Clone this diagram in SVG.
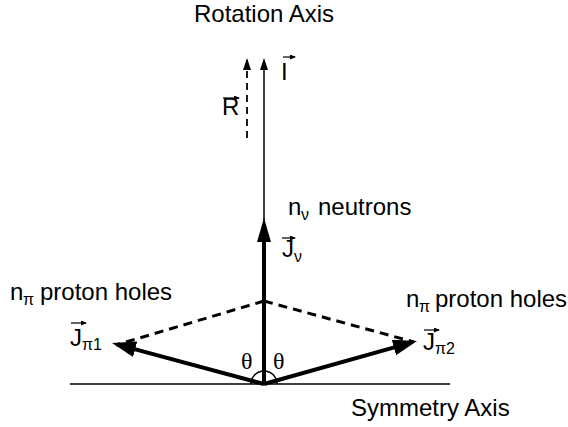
<svg xmlns="http://www.w3.org/2000/svg" width="568" height="427" viewBox="0 0 568 427">
<style>
.t{font-family:"Liberation Sans",Arial,sans-serif;font-size:24px;fill:#000}
.s{font-size:16px}
.th{font-family:"Liberation Serif","Times New Roman",serif;font-size:24px;fill:#000}
.thin{stroke:#000;stroke-width:1.5;fill:none}
.thick{stroke:#000;stroke-width:4;fill:none}
.dash{stroke:#000;stroke-width:3;stroke-dasharray:9 6;fill:none}
.dashthin{stroke:#000;stroke-width:1.8;stroke-dasharray:7 5;fill:none}
.vec{stroke:#000;stroke-width:1.2;fill:none}
</style>
<defs>
<marker id="big" markerUnits="userSpaceOnUse" markerWidth="26" markerHeight="18" refX="18" refY="8" orient="auto"><path d="M0,0 L24,8 L0,16 Z" fill="#000"/></marker>
<marker id="bigv" markerUnits="userSpaceOnUse" markerWidth="26" markerHeight="16" refX="18" refY="7" orient="auto"><path d="M0,0 L24,7 L0,14 Z" fill="#000"/></marker>
<marker id="small" markerUnits="userSpaceOnUse" markerWidth="14" markerHeight="10" refX="10" refY="4" orient="auto"><path d="M0,0 L12,4 L0,8 Z" fill="#000"/></marker>
<marker id="tiny" markerUnits="userSpaceOnUse" markerWidth="7" markerHeight="5" refX="5" refY="2.5" orient="auto"><path d="M0,0 L6,2.5 L0,5 Z" fill="#000"/></marker>
</defs>
<g id="connectors">
<line class="thin" x1="70" y1="384" x2="450" y2="384"/>
<line class="thick" x1="264" y1="384" x2="264" y2="224" marker-end="url(#bigv)"/>
<line class="thin" x1="264" y1="242" x2="264" y2="60" marker-end="url(#small)"/>
<line class="dashthin" x1="247" y1="138" x2="247" y2="60" marker-end="url(#small)"/>
<line class="dash" x1="264" y1="301" x2="116" y2="345"/>
<line class="dash" x1="264" y1="301" x2="414" y2="342"/>
<line class="thick" x1="264" y1="384" x2="117.8" y2="344.6" marker-end="url(#big)"/>
<line class="thick" x1="264" y1="384" x2="411.2" y2="342.6" marker-end="url(#big)"/>
<path class="thin" d="M251,384 A13,13 0 0 1 277,384"/>
</g>
<g id="title"><text class="t" x="194" y="22">Rotation Axis</text></g>
<g id="symmetry"><text class="t" x="351" y="416">Symmetry Axis</text></g>
<g id="I">
<line class="vec" x1="283" y1="57" x2="295" y2="57" marker-end="url(#tiny)"/>
<text class="t" x="281" y="80">I</text>
</g>
<g id="R">
<line class="vec" x1="223" y1="98" x2="239" y2="98" marker-end="url(#tiny)"/>
<text class="t" x="222" y="115">R</text>
</g>
<g id="neutrons">
<text class="t" x="288" y="215">n</text>
<text class="t s" x="301" y="220">ν</text>
<text class="t" x="318" y="215">neutrons</text>
</g>
<g id="Jnu">
<line class="vec" x1="282" y1="238" x2="295" y2="238" marker-end="url(#tiny)"/>
<text class="t" x="282" y="257">J</text>
<text class="t s" x="294" y="262">ν</text>
</g>
<g id="holes-left">
<text class="t" x="10" y="300">n</text>
<text class="t s" x="23" y="305">π</text>
<text class="t" x="40" y="300">proton holes</text>
</g>
<g id="Jpi1">
<line class="vec" x1="71" y1="323" x2="86" y2="323" marker-end="url(#tiny)"/>
<text class="t" x="70" y="346">J</text>
<text class="t s" x="82" y="350">π1</text>
</g>
<g id="holes-right">
<text class="t" x="406" y="307">n</text>
<text class="t s" x="419" y="312">π</text>
<text class="t" x="435" y="307">proton holes</text>
</g>
<g id="Jpi2">
<line class="vec" x1="424" y1="330" x2="439" y2="330" marker-end="url(#tiny)"/>
<text class="t" x="423" y="350">J</text>
<text class="t s" x="435" y="354">π2</text>
</g>
<g id="theta">
<text class="th" x="241" y="369">θ</text>
<text class="th" x="273" y="369">θ</text>
</g>
</svg>
